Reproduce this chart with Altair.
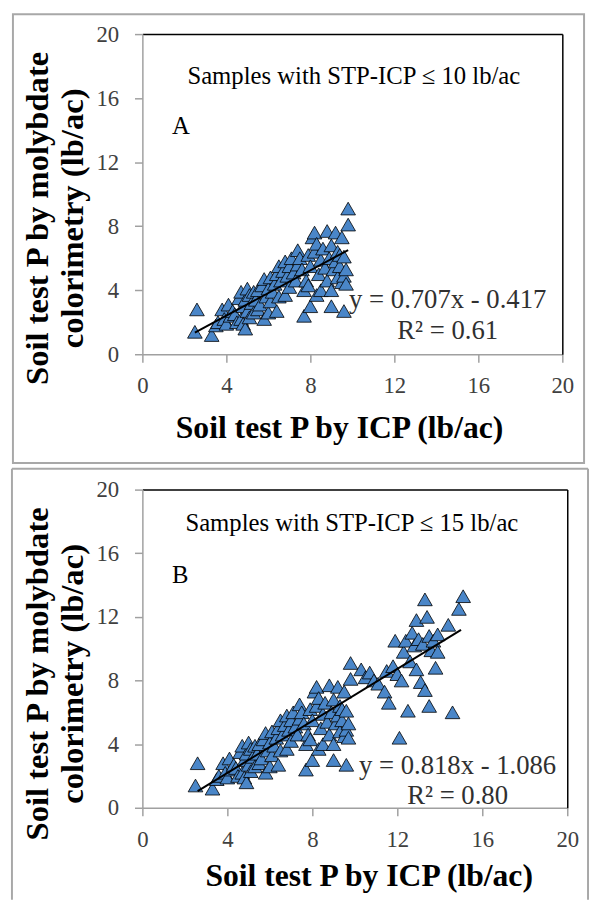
import altair as alt
import pandas as pd

# ---- data ----
a_x = [2.5, 2.6, 3.3, 3.5, 3.6, 3.8, 3.9, 4.0, 4.1, 4.2, 4.3, 4.4, 4.5, 4.6, 4.7, 4.7, 4.8, 4.8, 4.9, 4.9,
       5.0, 5.0, 5.1, 5.1, 5.2, 5.3, 5.3, 5.4, 5.5, 5.5, 5.6, 5.7, 5.8, 5.8, 5.9, 6.0, 6.0, 6.1, 6.1, 6.2,
       6.3, 6.4, 6.4, 6.5, 6.5, 6.6, 6.7, 6.8, 6.8, 6.9, 7.0, 7.0, 7.1, 7.2, 7.3, 7.4, 7.4, 7.5, 7.6, 7.7,
       7.7, 7.8, 7.9, 7.9, 8.0, 8.0, 8.1, 8.2, 8.2, 8.3, 8.3, 8.4, 8.5, 8.5, 8.6, 8.7, 8.8, 8.8, 8.9, 9.0,
       9.0, 9.0, 9.1, 9.2, 9.2, 9.3, 9.3, 9.4, 9.4, 9.5, 9.6, 9.6, 9.6, 9.7, 9.7, 9.8, 9.8, 9.5]
a_y = [1.4, 2.8, 1.2, 1.8, 2.0, 2.8, 2.2, 1.9, 3.1, 2.4, 2.7, 2.5, 2.0, 3.5, 3.9, 2.2, 3.0, 1.9, 1.6, 3.4,
       4.1, 2.7, 3.7, 2.3, 3.2, 3.9, 2.6, 3.4, 2.8, 4.0, 3.1, 4.3, 4.7, 2.2, 3.6, 4.1, 2.6, 3.3, 4.8, 3.9,
       4.4, 2.7, 5.0, 5.5, 3.6, 4.6, 5.2, 3.7, 5.8, 4.9, 5.5, 4.2, 6.0, 5.1, 4.6, 6.5, 5.6, 6.0, 5.3, 2.4,
       4.0, 4.6, 4.3, 6.2, 3.0, 5.5, 7.3, 7.6, 6.4, 6.9, 3.7, 5.0, 4.0, 5.9, 6.6, 5.4, 7.7, 4.6, 6.0, 3.0,
       4.0, 6.8, 5.3, 7.6, 5.8, 4.8, 6.4, 6.2, 5.5, 4.5, 2.7, 4.9, 6.1, 5.3, 4.4, 8.1, 9.1, 7.3]

# extra samples with 10 < STP-ICP <= 15 (panel B only)
b_extra_x = [10.3, 10.5, 10.7, 10.9, 11.1, 11.4, 11.6, 11.5, 11.8, 11.9, 12.0, 12.1, 12.2, 12.3, 12.4,
             12.5, 12.6, 12.7, 12.8, 12.9, 12.9, 13.0, 13.1, 13.2, 13.3, 13.3, 13.4, 13.5, 13.5, 13.6,
             13.7, 13.8, 13.9, 13.9, 14.4, 14.6, 14.9, 15.1]
b_extra_y = [8.7, 8.2, 8.5, 8.0, 7.8, 7.3, 6.6, 8.6, 8.9, 10.5, 8.4, 4.4, 8.0, 9.8, 10.5,
             6.1, 9.2, 11.0, 10.2, 11.8, 8.7, 10.6, 7.9, 10.3, 7.4, 13.1, 12.0, 10.8, 6.4, 9.9,
             10.5, 8.8, 10.9, 9.8, 11.5, 6.0, 12.5, 13.3]

b_x = a_x + b_extra_x
b_y = a_y + b_extra_y

fit_a = {"slope": 0.707, "intercept": -0.417, "x": [2.5, 9.8]}
fit_b = {"slope": 0.818, "intercept": -1.086, "x": [2.6, 15.0]}

tick_values = [0, 4, 8, 12, 16, 20]
x_title = "Soil test P by ICP (lb/ac)"
y_title = ["Soil test P by molybdate", "colorimetry (lb/ac)"]

FONT = "Liberation Serif"
GRAY = "#a0a0a0"
BORDER = "#a8a8a8"
BLUE = "#4a86c8"


def panel(xs, ys, fit, width, height, title, letter, eq, r2, pos):
    scale = alt.Scale(domain=[0, 20], nice=False, zero=True)
    pts_df = pd.DataFrame({"x": xs, "y": ys})
    fx = fit["x"]
    fit_df = pd.DataFrame({"x": fx, "y": [fit["slope"] * v + fit["intercept"] for v in fx]})

    x_axis = alt.Axis(values=tick_values, grid=False, domainColor=GRAY, domainWidth=1.5,
                      tickColor=GRAY, tickSize=8, tickWidth=1.5, labelFont=FONT, labelFontSize=23,
                      labelColor="#404040", labelPadding=13, labelFlush=False, labelOverlap=False,
                      title=x_title, titleFont=FONT,
                      titleFontSize=32, titleFontWeight="bold", titleColor="black",
                      titleX=pos["xtx"], titleY=pos["xty"], titleAlign="center",
                      titleBaseline="alphabetic")
    y_axis = alt.Axis(values=tick_values, grid=False, domainColor=GRAY, domainWidth=1.5,
                      tickColor=GRAY, tickSize=8, tickWidth=1.5, labelFont=FONT, labelFontSize=23,
                      labelColor="#404040", labelPadding=16, labelFlush=False, labelOverlap=False,
                      title=y_title, titleFont=FONT,
                      titleFontSize=33, titleFontWeight="bold", titleColor="black",
                      titleAngle=270, titleX=-96, titleY=186, titleAlign="center",
                      titleBaseline="alphabetic", titleLineHeight=35)
    top_axis = alt.Axis(orient="top", labels=False, ticks=False, grid=False, title=None,
                        domainColor="black", domainWidth=1.5)
    right_axis = alt.Axis(orient="right", labels=False, ticks=False, grid=False, title=None,
                          domainColor="black", domainWidth=1.5)

    pts = alt.Chart(pts_df).mark_point(shape="triangle-up", filled=True, color=BLUE,
                                       stroke="black", strokeWidth=0.8, opacity=1, size=220).encode(
        x=alt.X("x:Q", scale=scale, axis=x_axis),
        y=alt.Y("y:Q", scale=scale, axis=y_axis),
    )
    line = alt.Chart(fit_df).mark_line(color="black", strokeWidth=2).encode(
        x=alt.X("x:Q", scale=scale, axis=top_axis),
        y=alt.Y("y:Q", scale=scale, axis=right_axis),
    )
    one = pd.DataFrame({"k": [0]})
    texts = [
        alt.Chart(one).mark_text(font=FONT, fontSize=25, color="black", align="center",
                                 baseline="middle").encode(
            x=alt.value(pos["tx"]), y=alt.value(pos["ty"]), text=alt.value(title)),
        alt.Chart(one).mark_text(font=FONT, fontSize=25, color="black", align="left",
                                 baseline="middle").encode(
            x=alt.value(30), y=alt.value(pos["ly"]), text=alt.value(letter)),
        alt.Chart(one).mark_text(font=FONT, fontSize=27, color="#303030", align="center",
                                 baseline="middle").encode(
            x=alt.value(pos["ex"]), y=alt.value(pos["ey"]), text=alt.value(eq)),
        alt.Chart(one).mark_text(font=FONT, fontSize=27, color="#303030", align="center",
                                 baseline="middle").encode(
            x=alt.value(pos["ex"]), y=alt.value(pos["ry"]), text=alt.value(r2)),
    ]
    frame = pos["frame"]
    layers = frame + [pts, line] + texts
    return alt.layer(*layers).resolve_axis(x="independent", y="independent").properties(
        width=width, height=height)


one = pd.DataFrame({"k": [0]})
frame_a = [alt.Chart(one).mark_rect(fillOpacity=0, stroke=BORDER, strokeWidth=2).encode(
    x=alt.value(-131), x2=alt.value(447), y=alt.value(-20), y2=alt.value(434))]
frame_b = [
    alt.Chart(one).mark_rule(color=BORDER, strokeWidth=2).encode(
        x=alt.value(-132), x2=alt.value(451), y=alt.value(-21)),
    alt.Chart(one).mark_rule(color=BORDER, strokeWidth=2).encode(
        x=alt.value(-132), y=alt.value(-21), y2=alt.value(415)),
    alt.Chart(one).mark_rule(color=BORDER, strokeWidth=2).encode(
        x=alt.value(451), y=alt.value(-21), y2=alt.value(415)),
]

pA = panel(a_x, a_y, fit_a, 425, 324, "Samples with STP-ICP \u2264 10 lb/ac", "A",
           "y = 0.707x - 0.417", "R\u00b2 = 0.61",
           {"xtx": 199, "xty": 84, "tx": 214, "ty": 43, "ly": 93, "ex": 309, "ey": 269,
            "ry": 301, "frame": frame_a})
pB = panel(b_x, b_y, fit_b, 430, 322, "Samples with STP-ICP \u2264 15 lb/ac", "B",
           "y = 0.818x - 1.086", "R\u00b2 = 0.80",
           {"xtx": 229, "xty": 79, "tx": 212, "ty": 34, "ly": 87, "ex": 319, "ey": 280,
            "ry": 310, "frame": frame_b})

chart = alt.vconcat(pA, pB, spacing=4).properties(
    padding={"left": 3, "top": 0, "right": 0, "bottom": 0}
).configure_view(stroke=None)

chart.save("out.html", embed_options={"renderer": "svg", "actions": False})
